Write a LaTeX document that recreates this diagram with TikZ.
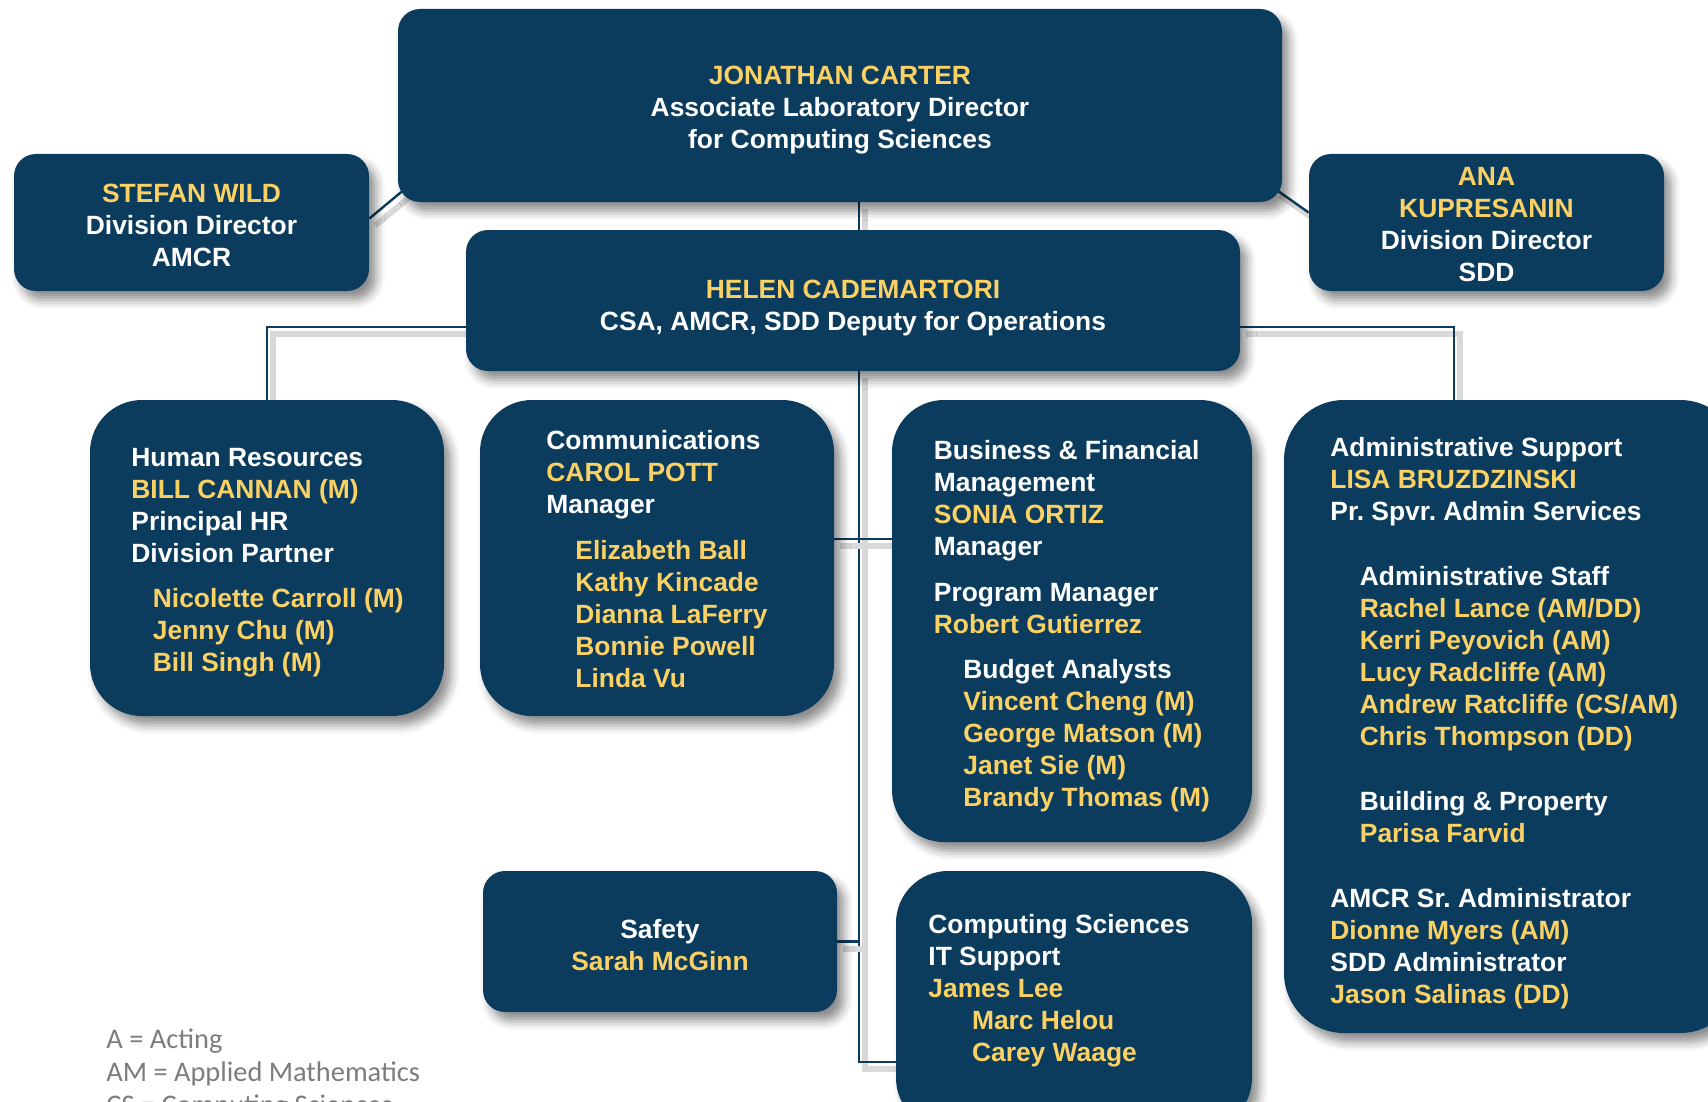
\documentclass[tikz,border=0pt]{standalone}
\usepackage{fontspec}
\setmainfont{Liberation Sans}
\newfontfamily\legendfont{Carlito}
\usetikzlibrary{shadows.blur}
\definecolor{boxnavy}{HTML}{0B3C5D}
\definecolor{boxgold}{HTML}{FCD164}
\definecolor{leggray}{HTML}{7C7C7C}
\newcommand\gd[1]{\textcolor{boxgold}{#1}}
\newcommand\fstrut{\rule{0pt}{20pt}}
\frenchspacing
\pgfdeclarelayer{bg}
\pgfsetlayers{bg,main}
\begin{document}
\begin{tikzpicture}[x=0.5pt,y=-0.5pt,
  box/.style={fill=boxnavy, rounded corners=11pt, inner sep=0pt,
    blur shadow={shadow xshift=3.5pt, shadow yshift=-4.5pt, shadow blur radius=4.5pt, shadow opacity=45}},
  bigbox/.style={box, rounded corners=26pt},
  txt/.style={text=white, font=\bfseries\fontsize{13.2}{16}\selectfont, inner sep=0pt},
  ctxt/.style={txt, align=center},
  ltxt/.style={txt, align=left, anchor=north west},
  conn/.style={draw=boxnavy, line width=1.2pt,
    preaction={draw=black!15, line width=3pt, transform canvas={xshift=3pt,yshift=-3.5pt}}}]
\useasboundingbox (0,0) rectangle (1708,1102);
\clip (0,0) rectangle (1708,1102);

% coordinates for connector routing
\coordinate (sp) at (859,1062);
\coordinate (hy) at (0,327);
\coordinate (cy) at (0,539);
\coordinate (ax) at (1454,0);

% boxes
\node[box, minimum width=442pt, minimum height=96.5pt] (jc) at (840,105.5) {};
\node[box, minimum width=177.5pt, minimum height=68.5pt] (stefan) at (191.5,222.5) {};
\node[box, minimum width=177.5pt, minimum height=68.5pt] (ana) at (1486.5,222.5) {};
\node[box, minimum width=387pt, minimum height=70.5pt] (helen) at (853,300.5) {};
\node[bigbox, minimum width=177pt, minimum height=158pt] (hr) at (267,558) {};
\node[bigbox, minimum width=177pt, minimum height=158pt] (comm) at (657,558) {};
\node[bigbox, minimum width=180pt, minimum height=221pt] (bfm) at (1072,621) {};
\node[bigbox, rounded corners=30pt, minimum width=228pt, minimum height=316.5pt] (admin) at (1512,716.5) {};
\node[box, minimum width=177pt, minimum height=70.5pt] (safety) at (660,941.5) {};
\node[bigbox, minimum width=178pt, minimum height=129.5pt] (csit) at (1074,1000.5) {};

% connectors (behind boxes)
\begin{pgfonlayer}{bg}
\draw[conn] (jc.south -| sp) -- (helen.north -| sp);
\draw[conn] (helen.south -| sp) -- (sp) -- (csit.west |- sp);
\draw[conn] (comm.east |- cy) -- (bfm.west |- cy);
\draw[conn] (safety.east) -- (safety.east -| sp);
\draw[conn] (helen.west |- hy) -| (hr.north);
\draw[conn] (helen.east |- hy) -| (admin.north -| ax);
\draw[conn] ([xshift=4pt,yshift=7pt]jc.south west) -- ([yshift=2pt]stefan.east);
\draw[conn] ([xshift=-4pt,yshift=7pt]jc.south east) -- ([yshift=5pt]ana.west);
\end{pgfonlayer}

% texts
\node[ctxt] (jct) at ([yshift=-2.2pt]jc.center) {\gd{JONATHAN CARTER}\\Associate Laboratory Director\\for Computing Sciences};
\node[ctxt] (stefant) at ([yshift=-1.3pt]stefan.center) {\gd{STEFAN WILD}\\Division Director\\AMCR};
\node[ctxt] (anat) at ([yshift=-1.1pt]ana.center) {\gd{ANA}\\\gd{KUPRESANIN}\\Division Director\\SDD};
\node[ctxt] (helent) at ([yshift=-3.8pt]helen.center) {\gd{HELEN CADEMARTORI}\\CSA, AMCR, SDD Deputy for Operations};
\node[ctxt] (safetyt) at ([yshift=-1.7pt]safety.center) {Safety\\\gd{Sarah McGinn}};

\node[ltxt] (hrt) at (131,426) {\fstrut Human Resources\\
  \gd{BILL CANNAN (M)}\\
  Principal HR\\
  Division Partner\\[6.5pt]
  \hspace*{10.75pt}\gd{Nicolette Carroll (M)}\\
  \hspace*{10.75pt}\gd{Jenny Chu (M)}\\
  \hspace*{10.75pt}\gd{Bill Singh (M)}};

\node[ltxt] (commt) at (546,409.5) {\fstrut Communications\\
  \gd{CAROL POTT}\\
  Manager\\[6.75pt]
  \hspace*{14.5pt}\gd{Elizabeth Ball}\\
  \hspace*{14.5pt}\gd{Kathy Kincade}\\
  \hspace*{14.5pt}\gd{Dianna LaFerry}\\
  \hspace*{14.5pt}\gd{Bonnie Powell}\\
  \hspace*{14.5pt}\gd{Linda Vu}};

\node[ltxt] (bfmt) at (933.5,419.4) {\fstrut Business \& Financial\\
  Management\\
  \gd{SONIA ORTIZ}\\
  Manager\\[6.75pt]
  Program Manager\\
  \gd{Robert Gutierrez}\\[6.75pt]
  \hspace*{14.75pt}Budget Analysts\\
  \hspace*{14.75pt}\gd{Vincent Cheng (M)}\\
  \hspace*{14.75pt}\gd{George Matson (M)}\\
  \hspace*{14.75pt}\gd{Janet Sie (M)}\\
  \hspace*{14.75pt}\gd{Brandy Thomas (M)}};

\node[ltxt] (admint) at (1330,416) {\fstrut Administrative Support\\
  \gd{LISA BRUZDZINSKI}\\
  Pr. Spvr. Admin Services\\[16.5pt]
  \hspace*{14.75pt}Administrative Staff\\
  \hspace*{14.75pt}\gd{Rachel Lance (AM/DD)}\\
  \hspace*{14.75pt}\gd{Kerri Peyovich (AM)}\\
  \hspace*{14.75pt}\gd{Lucy Radcliffe (AM)}\\
  \hspace*{14.75pt}\gd{Andrew Ratcliffe (CS/AM)}\\
  \hspace*{14.75pt}\gd{Chris Thompson (DD)}\\[16.5pt]
  \hspace*{14.75pt}Building \& Property\\
  \hspace*{14.75pt}\gd{Parisa Farvid}\\[16.5pt]
  AMCR Sr. Administrator\\
  \gd{Dionne Myers (AM)}\\
  SDD Administrator\\
  \gd{Jason Salinas (DD)}};

\node[ltxt] (csitt) at (928,893) {\fstrut Computing Sciences\\
  IT Support\\
  \gd{James Lee}\\
  \hspace*{21.8pt}\gd{Marc Helou}\\
  \hspace*{21.8pt}\gd{Carey Waage}};

% legend
\node[anchor=north west, inner sep=0pt, align=left, text=leggray,
  font=\legendfont\fontsize{14.2}{16.5}\selectfont] (legend) at (106,1008)
  {\fstrut A = Acting\\AM = Applied Mathematics\\CS = Computing Sciences};
\end{tikzpicture}
\end{document}
